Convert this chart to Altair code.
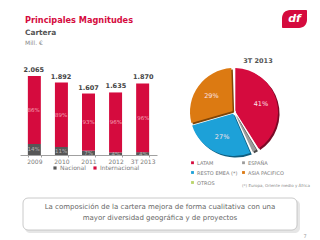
import altair as alt
import pandas as pd

# Portfolio by year (million €), with domestic / international split in %
years = ["2009", "2010", "2011", "2012", "3T 2013"]
totals = [2065, 1892, 1607, 1635, 1870]
total_labels = ["2.065", "1.892", "1.607", "1.635", "1.870"]
pct_nacional = [14, 11, 7, 4, 4]
pct_internacional = [86, 89, 93, 96, 96]

# Geographic mix of the portfolio, 3T 2013 (%)
regions = ["LATAM", "ESPAÑA", "RESTO EMEA (*)", "ASIA PACIFICO", "OTROS"]
region_share = [41, 2.5, 27, 29, 0.5]
region_labels = ["41%", "", "27%", "29%", ""]

RED = "#D50B3E"
DARK = "#575757"
FONT = "DejaVu Sans"
region_colors = {"LATAM": RED, "ESPAÑA": "#9C9C9C", "RESTO EMEA (*)": "#1DA1D8",
                 "ASIA PACIFICO": "#DC7A12", "OTROS": "#B9D46A"}
region_shadow = {"LATAM": "#7A0A26", "ESPAÑA": "#4A4A4A", "RESTO EMEA (*)": "#0F5E80",
                 "ASIA PACIFICO": "#7E4508", "OTROS": "#6E7F3A"}
# legend fills its two columns top to bottom
legend_order = ["LATAM", "RESTO EMEA (*)", "OTROS", "ESPAÑA", "ASIA PACIFICO"]

# ---- stacked bar table
rows = []
for yr, tot, pn, pi in zip(years, totals, pct_nacional, pct_internacional):
    nac = tot * pn / 100
    rows.append(dict(year=yr, segment="Nacional", y0=0, y1=nac, mid=nac / 2, pct=f"{pn}%"))
    rows.append(dict(year=yr, segment="Internacional", y0=nac, y1=tot, mid=(nac + tot) / 2, pct=f"{pi}%"))
bars_df = pd.DataFrame(rows)
totals_df = pd.DataFrame({"year": years, "total": totals, "label": total_labels})


def xscale():
    return alt.Scale(domain=years, range=[20, 157], paddingInner=0.52, paddingOuter=0.29)


def yscale():
    return alt.Scale(domain=[0, 2065], range=[155, 76], nice=False, zero=True)


bars = alt.Chart(bars_df).mark_bar().encode(
    x=alt.X("year:N", sort=years, scale=xscale(),
            axis=alt.Axis(title=None, offset=-85, labelAngle=0, labelFont=FONT,
                          labelFontSize=6, labelColor="#7a7a7a", domainColor="#a0a0a0",
                          tickColor="#a0a0a0", tickSize=2, tickBand="extent", labelPadding=1)),
    y=alt.Y("y0:Q", scale=yscale(), axis=None),
    y2="y1:Q",
    color=alt.Color("segment:N",
                    scale=alt.Scale(domain=["Nacional", "Internacional"], range=[DARK, RED]),
                    legend=alt.Legend(orient="none", legendX=52, legendY=165, direction="horizontal",
                                      title=None, symbolType="square", symbolSize=10,
                                      symbolStrokeWidth=0, labelFont=FONT, labelFontSize=6,
                                      labelColor="#7a7a7a", columnPadding=6, labelOffset=2)),
)

seg_labels = alt.Chart(bars_df).mark_text(font=FONT, fontSize=5.5).encode(
    x=alt.X("year:N", sort=years, scale=xscale(), axis=None),
    y=alt.Y("mid:Q", scale=yscale(), axis=None),
    text="pct:N",
    color=alt.Color("segment:N",
                    scale=alt.Scale(domain=["Nacional", "Internacional"], range=["#b5b5b5", "#F4A3B6"]),
                    legend=None),
)

total_text = alt.Chart(totals_df).mark_text(font=FONT, fontSize=6.5, fontWeight="bold",
                                            color="#444444", dy=-6).encode(
    x=alt.X("year:N", sort=years, scale=xscale(), axis=None),
    y=alt.Y("total:Q", scale=yscale(), axis=None),
    text="label:N",
)

# ---- pie
pie_df = pd.DataFrame({"region": regions, "share": region_share,
                       "label": region_labels, "order": list(range(len(regions)))})

pie_shadow = alt.Chart(pie_df).mark_arc(radius=44, innerRadius=2, padAngle=0.06).encode(
    theta=alt.Theta("share:Q", stack=True),
    order=alt.Order("order:Q"),
    color=alt.Color("region:N", scale=alt.Scale(domain=legend_order,
                                                range=[region_shadow[r] for r in legend_order]),
                    legend=None),
    x=alt.value(235.5), y=alt.value(113.5),
)

pie = alt.Chart(pie_df).mark_arc(radius=44, innerRadius=2, padAngle=0.06).encode(
    theta=alt.Theta("share:Q", stack=True),
    order=alt.Order("order:Q"),
    color=alt.Color("region:N", scale=alt.Scale(domain=legend_order,
                                                range=[region_colors[r] for r in legend_order]),
                    legend=alt.Legend(orient="none", legendX=190, legendY=160, columns=2,
                                      title=None, symbolType="square", symbolSize=8,
                                      symbolStrokeWidth=0, labelFont=FONT, labelFontSize=5,
                                      labelColor="#7a7a7a", columnPadding=3, rowPadding=4,
                                      labelOffset=2)),
    x=alt.value(234), y=alt.value(112),
)

pie_text = alt.Chart(pie_df).mark_text(radius=28, font=FONT, fontSize=6.5,
                                       color="#FBE3E8").encode(
    theta=alt.Theta("share:Q", stack=True),
    order=alt.Order("order:Q"),
    text="label:N",
    x=alt.value(234), y=alt.value(112),
)

one = pd.DataFrame({"k": [0]})


def label(text, x, y, size, color, weight="normal", align="left", **kw):
    return alt.Chart(one).mark_text(text=text, font=FONT, fontSize=size, color=color,
                                    fontWeight=weight, align=align, baseline="middle", **kw).encode(
        x=alt.value(x), y=alt.value(y))


title = label("Principales Magnitudes", 25, 21, 8.2, RED, "bold")
subtitle = label("Cartera", 25, 33, 7.4, "#555555", "bold")
units = label("Mill. €", 25, 43, 6, "#8a8a8a")
pie_title = label("3T 2013", 258, 61, 6.5, "#555555", "bold", align="center")
footnote = label("(*) Europa, Oriente medio y África", 242, 186, 4, "#8a8a8a")

# company mark
logo_box = alt.Chart(one).mark_rect(color=RED, cornerRadiusTopLeft=8, cornerRadiusBottomRight=8,
                                    cornerRadiusTopRight=1, cornerRadiusBottomLeft=1).encode(
    x=alt.value(282), x2=alt.value(307), y=alt.value(10), y2=alt.value(28))
logo_text = label("df", 294.5, 19, 11, "white", "bold", align="center", fontStyle="italic")

# conclusion box
box_shadow = alt.Chart(one).mark_rect(color="#e6e6e6", cornerRadius=5).encode(
    x=alt.value(25), x2=alt.value(300), y=alt.value(200), y2=alt.value(233))
box = alt.Chart(one).mark_rect(fill="white", stroke="#bdbdbd", strokeWidth=0.8, cornerRadius=5).encode(
    x=alt.value(23), x2=alt.value(297), y=alt.value(198), y2=alt.value(230))
box_line1 = label("La composición de la cartera mejora de forma cualitativa con una",
                  160, 207, 7, "#666666", align="center")
box_line2 = label("mayor diversidad geográfica y de proyectos", 160, 218, 7, "#666666", align="center")
page = label("7", 305, 236, 5, "#999999", align="center")

chart = alt.layer(
    bars, seg_labels, total_text,
    pie_shadow, pie, pie_text,
    title, subtitle, units, pie_title, footnote,
    logo_box, logo_text,
    box_shadow, box, box_line1, box_line2, page,
).resolve_scale(
    x="independent", y="independent", color="independent", theta="independent"
).resolve_legend(color="independent").properties(
    width=320, height=240, padding=0, autosize=alt.AutoSizeParams(type="none"),
    background="white",
).configure_view(stroke=None)

chart.save("out.html", embed_options={"renderer": "svg", "actions": False})
